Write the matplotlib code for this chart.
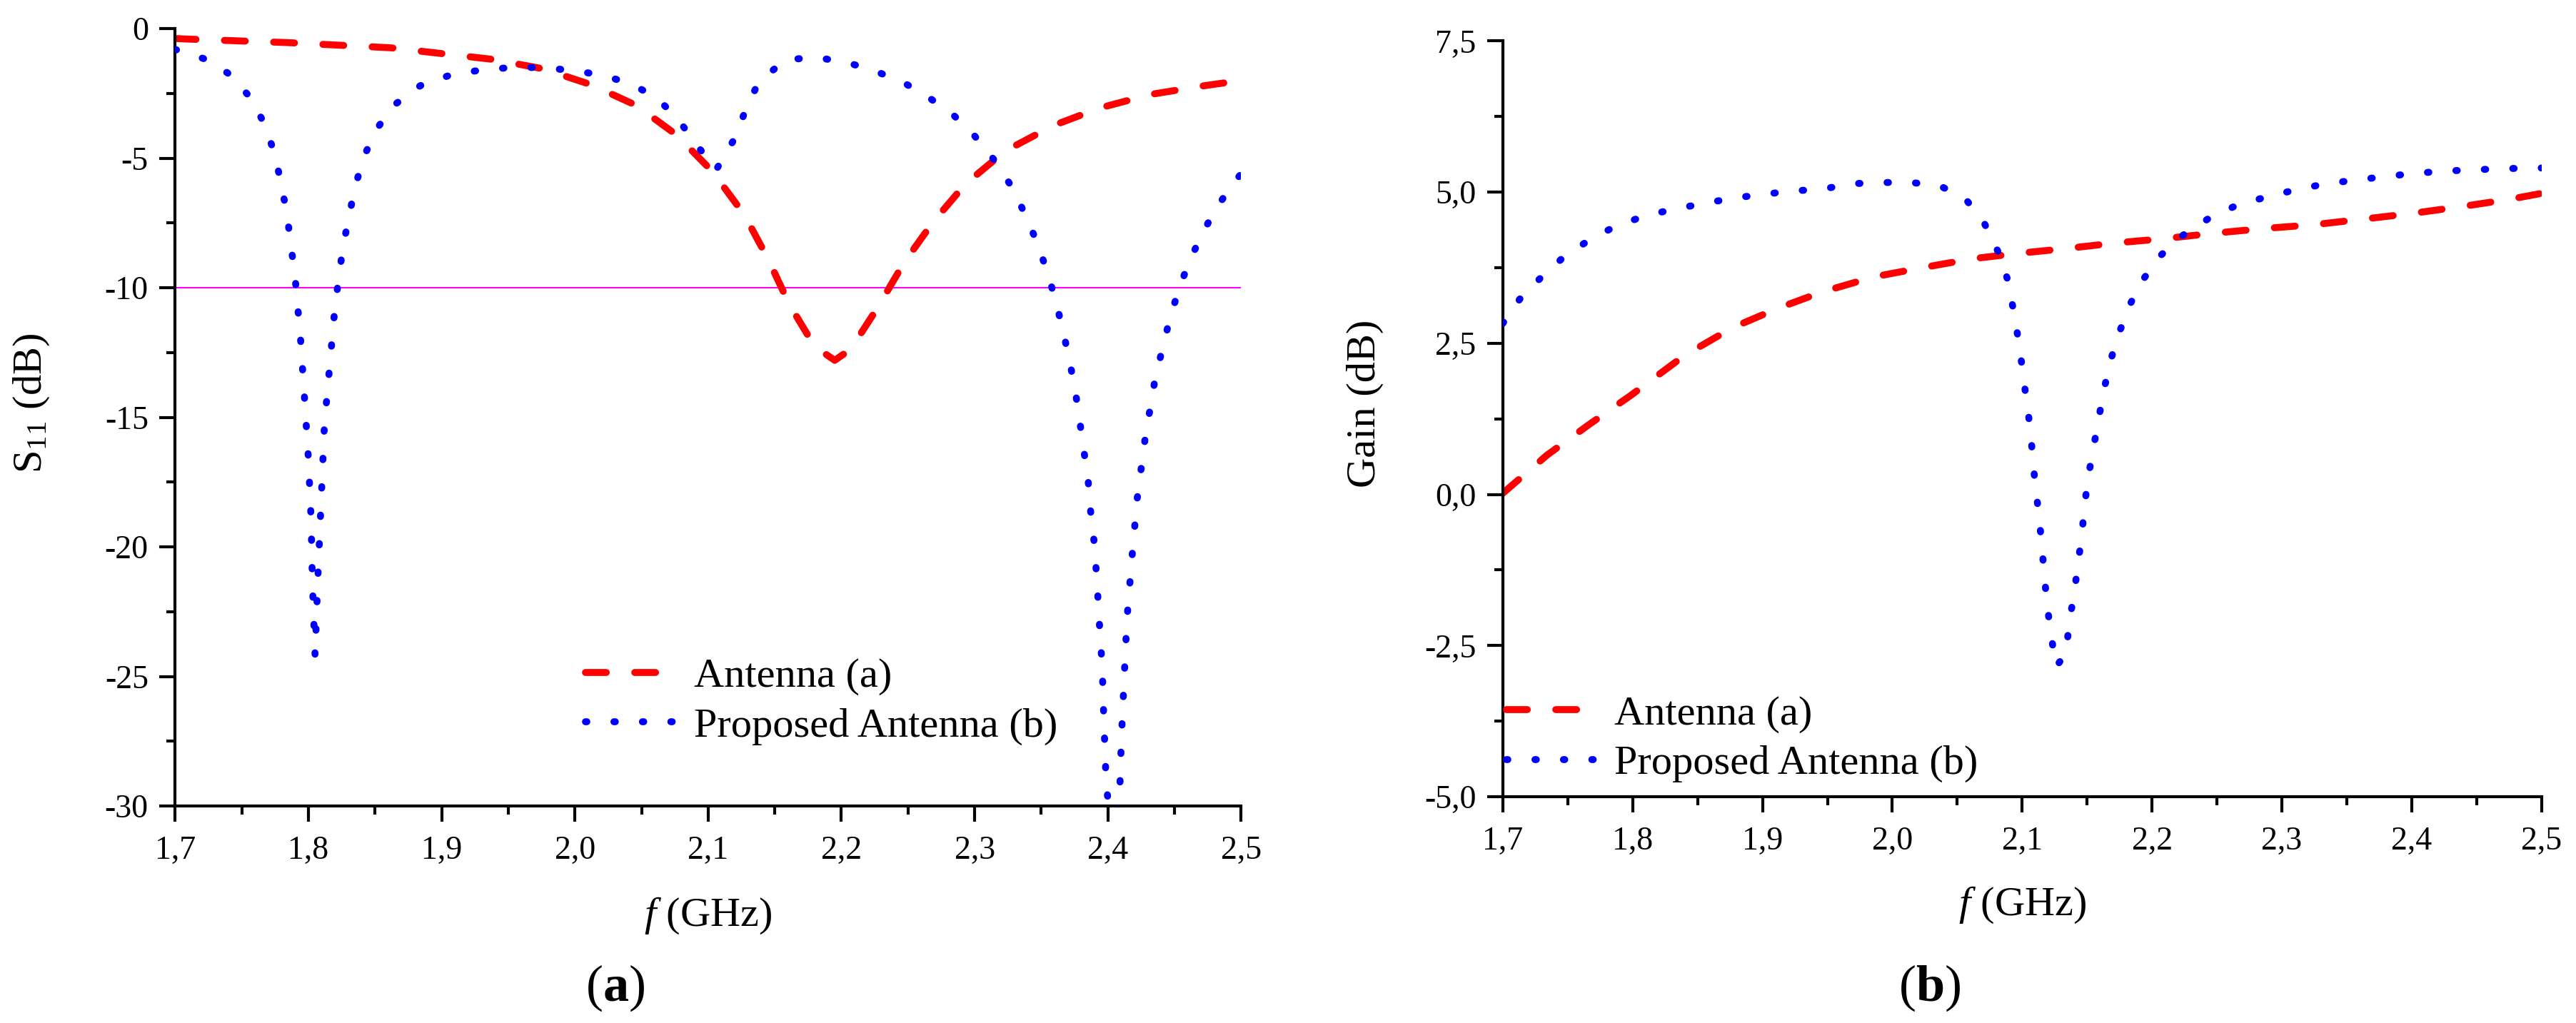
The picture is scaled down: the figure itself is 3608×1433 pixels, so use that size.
import matplotlib.pyplot as plt
from matplotlib.ticker import MultipleLocator

# No GUI here
plt.switch_backend('agg')

SERIF = 'Liberation Serif'
plt.rcParams['font.family'] = 'serif'
plt.rcParams['font.serif'] = [SERIF, 'DejaVu Serif']
plt.rcParams['mathtext.fontset'] = 'custom'
plt.rcParams['mathtext.rm'] = SERIF
plt.rcParams['mathtext.it'] = SERIF + ':italic'
plt.rcParams['mathtext.bf'] = SERIF + ':bold'

# ---- data ----
# (a) S11, Antenna (a)
freq_s11_a = [1.700, 1.708, 1.785, 1.862, 1.939, 1.976, 2.012, 2.046, 2.076, 2.103,
              2.127, 2.145, 2.161, 2.180, 2.195, 2.207, 2.228, 2.247, 2.269, 2.293,
              2.323, 2.359, 2.394, 2.432, 2.470, 2.500]
s11_a = [-0.38, -0.40, -0.54, -0.74, -1.19, -1.55, -2.16, -2.96, -4.09, -5.50,
         -7.17, -8.89, -10.65, -12.27, -12.80, -12.37, -10.70, -9.03, -7.45, -6.00,
         -4.72, -3.74, -3.06, -2.54, -2.22, -2.00]

# (a) S11, Proposed Antenna (b)
freq_s11_b = [1.700, 1.724, 1.742, 1.758, 1.768, 1.775, 1.780, 1.784, 1.787, 1.790,
              1.794, 1.797, 1.800, 1.802, 1.803, 1.805, 1.807, 1.810, 1.812, 1.816,
              1.820, 1.826, 1.835, 1.842, 1.851, 1.863, 1.884, 1.906, 1.929, 1.952,
              1.974, 1.998, 2.020, 2.042, 2.062, 2.078, 2.092, 2.106, 2.121, 2.1285,
              2.138, 2.158, 2.181, 2.204, 2.226, 2.247, 2.266, 2.284, 2.300, 2.315,
              2.328, 2.338, 2.347, 2.3545, 2.361, 2.3664, 2.3713, 2.3755, 2.3788, 2.382,
              2.3852, 2.387, 2.3896, 2.3913, 2.3927, 2.394, 2.3955, 2.3964, 2.397, 2.398,
              2.3986, 2.404, 2.4087, 2.4101, 2.4122, 2.4143, 2.418, 2.422, 2.428, 2.4355,
              2.4463, 2.453, 2.4606, 2.470, 2.4805, 2.4935, 2.500]
s11_b = [-0.80, -1.20, -1.80, -2.76, -3.80, -4.90, -6.10, -7.20, -8.40, -9.60,
         -11.90, -14.20, -16.60, -18.90, -21.40, -24.20, -21.30, -17.70, -15.30, -13.00,
         -10.70, -8.40, -6.10, -4.90, -3.90, -3.00, -2.20, -1.80, -1.60, -1.50,
         -1.50, -1.61, -1.79, -2.12, -2.69, -3.54, -4.53, -5.45, -4.14, -3.07,
         -2.06, -1.20, -1.11, -1.30, -1.65, -2.09, -2.67, -3.33, -4.14, -5.09,
         -6.12, -7.18, -8.27, -9.39, -10.53, -11.68, -12.83, -13.97, -15.12, -16.29,
         -17.45, -18.60, -19.78, -20.95, -22.10, -23.27, -24.44, -25.60, -26.80, -27.96,
         -29.10, -31.50, -29.80, -27.45, -25.10, -22.80, -20.46, -18.14, -15.80, -13.50,
         -11.23, -10.10, -9.05, -8.00, -6.99, -6.02, -5.60]

# (b) Gain, Antenna (a)
freq_gain_a = [1.700, 1.734, 1.766, 1.798, 1.840, 1.877, 1.912, 1.946, 1.986, 2.023,
               2.062, 2.098, 2.135, 2.172, 2.209, 2.247, 2.287, 2.324, 2.361, 2.401,
               2.438, 2.475, 2.500]
gain_a = [0.02, 0.65, 1.15, 1.63, 2.30, 2.76, 3.08, 3.35, 3.60, 3.75,
          3.90, 3.99, 4.07, 4.16, 4.23, 4.32, 4.40, 4.46, 4.55, 4.65,
          4.76, 4.88, 4.98]

# (b) Gain, Proposed Antenna (b)
freq_gain_b = [1.700, 1.713, 1.729, 1.747, 1.766, 1.787, 1.810, 1.832, 1.854, 1.877,
               1.899, 1.923, 1.946, 1.969, 1.992, 2.015, 2.037, 2.056, 2.071, 2.082,
               2.089, 2.093, 2.097, 2.100, 2.103, 2.106, 2.108, 2.110, 2.113, 2.115,
               2.117, 2.119, 2.122, 2.126, 2.134, 2.136, 2.140, 2.143, 2.146, 2.148,
               2.151, 2.155, 2.159, 2.163, 2.168, 2.175, 2.183, 2.193, 2.206, 2.224,
               2.244, 2.265, 2.288, 2.311, 2.334, 2.357, 2.380, 2.402, 2.426, 2.448,
               2.472, 2.500]
gain_b = [2.83, 3.23, 3.58, 3.93, 4.20, 4.44, 4.61, 4.72, 4.81, 4.90,
          4.96, 5.02, 5.05, 5.14, 5.16, 5.16, 5.10, 4.90, 4.48, 3.99,
          3.54, 3.08, 2.57, 2.11, 1.60, 1.13, 0.65, 0.16, -0.35, -0.82,
          -1.31, -1.79, -2.28, -2.85, -2.63, -2.14, -1.65, -1.15, -0.67, -0.19,
          0.30, 0.78, 1.26, 1.73, 2.21, 2.69, 3.14, 3.55, 3.94, 4.29,
          4.57, 4.78, 4.92, 5.04, 5.14, 5.20, 5.26, 5.31, 5.35, 5.37,
          5.39, 5.40]

freq_ticks = [1.7, 1.8, 1.9, 2.0, 2.1, 2.2, 2.3, 2.4, 2.5]
freq_tick_labels = ['1,7', '1,8', '1,9', '2,0', '2,1', '2,2', '2,3', '2,4', '2,5']
s11_ticks = [0, -5, -10, -15, -20, -25, -30]
s11_tick_labels = ['0', '-5', '-10', '-15', '-20', '-25', '-30']
gain_ticks = [7.5, 5.0, 2.5, 0.0, -2.5, -5.0]
gain_tick_labels = ['7,5', '5,0', '2,5', '0,0', '-2,5', '-5,0']
s11_threshold = -10

series_labels = ['Antenna (a)', 'Proposed Antenna (b)']

# ---- styles ----
LW = 7.0
RED_STYLE = dict(color='#ff0000', lw=LW, linestyle=(0, (3.0, 4.1)), dash_capstyle='round')
BLUE_STYLE = dict(color='#0000ff', lw=LW, linestyle=(0, (0.2, 3.9)), dash_capstyle='round')
TICK_FS = 33
LABEL_FS = 42
LEGEND_FS = 42


def style_axes(ax, yticks, ylabels, ylim, ystep_minor):
    for side in ('top', 'right'):
        ax.spines[side].set_visible(False)
    for side in ('left', 'bottom'):
        ax.spines[side].set_linewidth(3.0)
    ax.set_xlim(1.7, 2.5)
    ax.set_ylim(*ylim)
    ax.set_xticks(freq_ticks)
    ax.set_xticklabels(freq_tick_labels, family=SERIF)
    ax.set_yticks(yticks)
    ax.set_yticklabels(ylabels, family=SERIF)
    ax.xaxis.set_minor_locator(MultipleLocator(0.05))
    ax.yaxis.set_minor_locator(MultipleLocator(ystep_minor))
    ax.tick_params(which='major', direction='out', length=16, width=3.0, labelsize=TICK_FS)
    ax.tick_params(which='minor', direction='out', length=8.4, width=3.0)
    ax.tick_params(axis='x', which='major', pad=14)
    ax.tick_params(axis='y', which='major', pad=11)


def add_legend(ax, anchor):
    ax.legend(loc='center left', bbox_to_anchor=anchor, frameon=False,
              prop={'family': SERIF, 'size': LEGEND_FS}, handlelength=2.2,
              handletextpad=0.4, labelspacing=0.28, borderpad=0, borderaxespad=0)


fig = plt.figure(figsize=(36.08, 14.33), dpi=100)

# (a) S11
ax1 = fig.add_axes([0.068, 0.2121, 0.4138, 0.7599])
ax1.axhline(s11_threshold, color='#ff00ff', lw=1.5, zorder=1)
ax1.plot(freq_s11_a, s11_a, label=series_labels[0], zorder=2, **RED_STYLE)
ax1.plot(freq_s11_b, s11_b, label=series_labels[1], zorder=3, **BLUE_STYLE)
style_axes(ax1, s11_ticks, s11_tick_labels, (-30, 0), 2.5)
ax1.set_ylabel(r'S$_{11}$ (dB)', fontsize=LABEL_FS, family=SERIF)
ax1.yaxis.set_label_coords(-0.116, 0.518)
ax1.set_xlabel(r'$f$ (GHz)', fontsize=LABEL_FS, family=SERIF)
ax1.xaxis.set_label_coords(0.5, -0.1157)
add_legend(ax1, (0.385, 0.1345))

# (b) Gain
ax2 = fig.add_axes([0.5834, 0.2212, 0.4032, 0.7387])
ax2.plot(freq_gain_a, gain_a, label=series_labels[0], zorder=2, **RED_STYLE)
ax2.plot(freq_gain_b, gain_b, label=series_labels[1], zorder=3, **BLUE_STYLE)
style_axes(ax2, gain_ticks, gain_tick_labels, (-5.0, 7.5), 1.25)
ax2.set_ylabel('Gain (dB)', fontsize=LABEL_FS, family=SERIF)
ax2.yaxis.set_label_coords(-0.1146, 0.52)
ax2.set_xlabel(r'$f$ (GHz)', fontsize=LABEL_FS, family=SERIF)
ax2.xaxis.set_label_coords(0.5, -0.117)
add_legend(ax2, (0.0033, 0.0765))

fig.text(0.2388, 0.034, r'($\mathbf{a}$)', fontsize=52, family=SERIF, ha='center', va='center')
fig.text(0.749, 0.034, r'($\mathbf{b}$)', fontsize=52, family=SERIF, ha='center', va='center')

fig.savefig('out.png', dpi=100)
plt.close(fig)
